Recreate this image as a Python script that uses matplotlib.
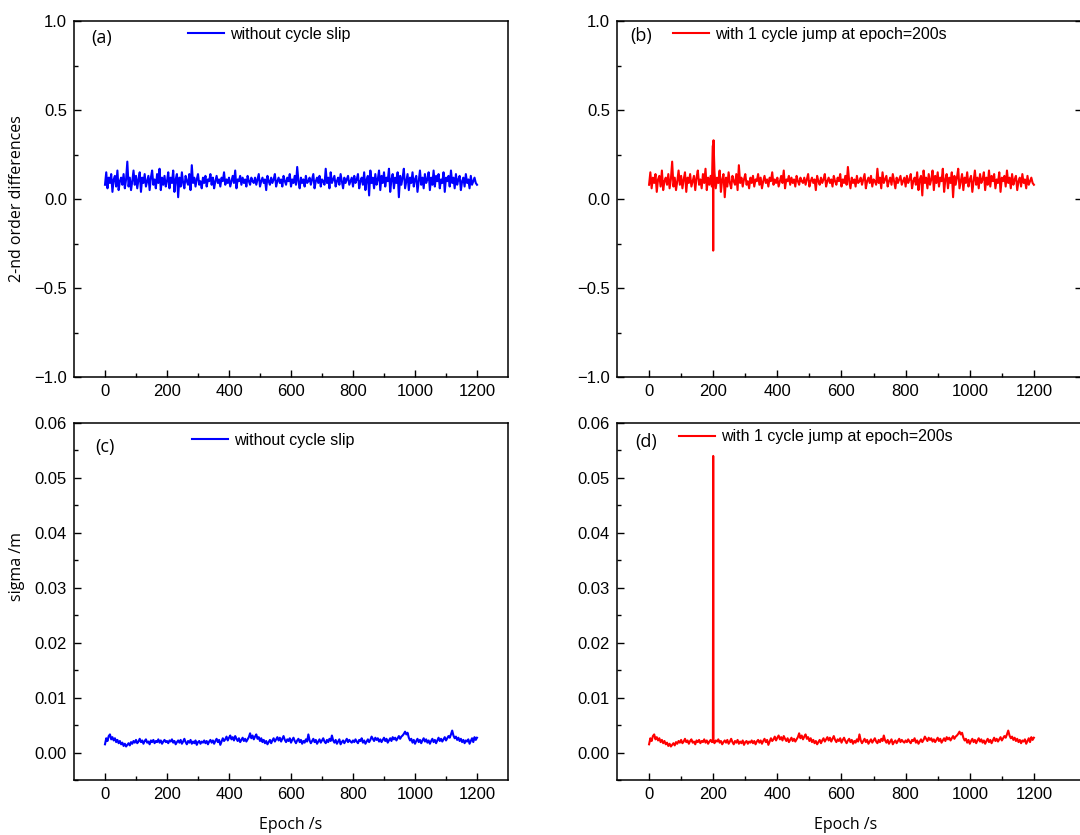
import matplotlib.pyplot as plt
import numpy as np
from matplotlib.ticker import MultipleLocator, FixedLocator

plt.rcParams['font.family'] = ['Liberation Sans', 'DejaVu Sans']

# epochs sampled every 4 s, 0 .. 1200
epoch_step = 4
epoch_end = 1200

# 2-nd order differences without cycle slip
diff_values = [
    0.08, 0.15, 0.06, 0.12, 0.09, 0.14, 0.04, 0.11, 0.13, 0.07, 0.16, 0.05, 0.10, 0.12, 0.08, 0.14, 0.06, 0.11, 0.21, 0.07,
    0.12, 0.05, 0.10, 0.16, 0.08, 0.13, 0.06, 0.11, 0.15, 0.04, 0.12, 0.09, 0.14, 0.07, 0.10, 0.13, 0.05, 0.12, 0.16, 0.08,
    0.11, 0.06, 0.14, 0.09, 0.17, 0.05, 0.12, 0.08, 0.13, 0.07, 0.10, 0.15, 0.06, 0.12, 0.09, 0.16, 0.04, 0.11, 0.14, 0.01,
    0.12, 0.07, 0.15, 0.09, 0.06, 0.13, 0.10, 0.08, 0.14, 0.05, 0.19, 0.09, 0.12, 0.07, 0.11, 0.14, 0.08, 0.10, 0.06, 0.12,
    0.09, 0.13, 0.07, 0.11, 0.10, 0.14, 0.08, 0.12, 0.06, 0.10, 0.13, 0.09, 0.11, 0.07, 0.12, 0.10, 0.15, 0.08, 0.11, 0.09,
    0.12, 0.07, 0.10, 0.13, 0.09, 0.16, 0.06, 0.11, 0.10, 0.13, 0.08, 0.12, 0.09, 0.11, 0.07, 0.13, 0.10, 0.08, 0.12, 0.10,
    0.09, 0.12, 0.08, 0.11, 0.14, 0.07, 0.10, 0.12, 0.09, 0.11, 0.05, 0.13, 0.10, 0.08, 0.12, 0.09, 0.11, 0.14, 0.07, 0.10,
    0.12, 0.09, 0.11, 0.07, 0.13, 0.10, 0.08, 0.12, 0.10, 0.14, 0.07, 0.11, 0.09, 0.13, 0.08, 0.18, 0.10, 0.06, 0.12, 0.09,
    0.11, 0.07, 0.13, 0.09, 0.10, 0.12, 0.08, 0.11, 0.14, 0.06, 0.10, 0.12, 0.09, 0.13, 0.07, 0.11, 0.10, 0.08, 0.17, 0.09,
    0.12, 0.06, 0.15, 0.09, 0.11, 0.13, 0.07, 0.10, 0.12, 0.08, 0.14, 0.10, 0.06, 0.12, 0.09, 0.11, 0.13, 0.08, 0.10, 0.12,
    0.07, 0.13, 0.09, 0.11, 0.14, 0.06, 0.10, 0.12, 0.08, 0.15, 0.05, 0.11, 0.13, 0.02, 0.16, 0.09, 0.12, 0.06, 0.14, 0.08,
    0.11, 0.16, 0.05, 0.13, 0.09, 0.15, 0.07, 0.12, 0.10, 0.17, 0.04, 0.11, 0.14, 0.06, 0.12, 0.09, 0.15, 0.01, 0.13, 0.08,
    0.12, 0.17, 0.06, 0.10, 0.14, 0.05, 0.12, 0.09, 0.15, 0.07, 0.11, 0.13, 0.04, 0.10, 0.16, 0.08, 0.12, 0.06, 0.14, 0.09,
    0.11, 0.15, 0.05, 0.12, 0.08, 0.16, 0.07, 0.13, 0.10, 0.14, 0.06, 0.11, 0.09, 0.15, 0.04, 0.12, 0.10, 0.13, 0.07, 0.16,
    0.09, 0.12, 0.06, 0.14, 0.08, 0.11, 0.13, 0.05, 0.10, 0.12, 0.07, 0.14, 0.09, 0.11, 0.06, 0.13, 0.08, 0.10, 0.12, 0.09,
    0.08,
]

# sigma without cycle slip, metres
sigma_values = [
    0.0015, 0.0026, 0.0021, 0.0030, 0.0033, 0.0024, 0.0028, 0.0022, 0.0026, 0.0019, 0.0023, 0.0017, 0.0021, 0.0015, 0.0018, 0.0012, 0.0016, 0.0011, 0.0014, 0.0017,
    0.0013, 0.0019, 0.0016, 0.0021, 0.0018, 0.0023, 0.0017, 0.0020, 0.0025, 0.0019, 0.0022, 0.0016, 0.0021, 0.0024, 0.0018, 0.0020, 0.0015, 0.0022, 0.0019, 0.0023,
    0.0017, 0.0021, 0.0019, 0.0024, 0.0018, 0.0022, 0.0016, 0.0020, 0.0023, 0.0019, 0.0021, 0.0017, 0.0022, 0.0020, 0.0024, 0.0018, 0.0021, 0.0015, 0.0019, 0.0022,
    0.0018, 0.0023, 0.0016, 0.0020, 0.0025, 0.0019, 0.0015, 0.0021, 0.0018, 0.0023, 0.0016, 0.0020, 0.0017, 0.0022, 0.0014, 0.0019, 0.0021, 0.0016, 0.0020, 0.0018,
    0.0022, 0.0017, 0.0021, 0.0015, 0.0020, 0.0023, 0.0018, 0.0022, 0.0016, 0.0021, 0.0025, 0.0019, 0.0023, 0.0014, 0.0020, 0.0026, 0.0021, 0.0024, 0.0029, 0.0022,
    0.0027, 0.0031, 0.0024, 0.0028, 0.0022, 0.0030, 0.0025, 0.0021, 0.0026, 0.0019, 0.0023, 0.0027, 0.0021, 0.0025, 0.0020, 0.0024, 0.0028, 0.0035, 0.0026, 0.0031,
    0.0024, 0.0029, 0.0033, 0.0025, 0.0028, 0.0021, 0.0026, 0.0019, 0.0023, 0.0017, 0.0021, 0.0015, 0.0019, 0.0023, 0.0017, 0.0022, 0.0026, 0.0020, 0.0024, 0.0028,
    0.0022, 0.0027, 0.0020, 0.0025, 0.0030, 0.0023, 0.0019, 0.0024, 0.0021, 0.0026, 0.0018, 0.0023, 0.0027, 0.0021, 0.0017, 0.0022, 0.0025, 0.0019, 0.0023, 0.0016,
    0.0021, 0.0018, 0.0024, 0.0020, 0.0033, 0.0022, 0.0017, 0.0021, 0.0025, 0.0019, 0.0023, 0.0016, 0.0020, 0.0024, 0.0018, 0.0022, 0.0026, 0.0020, 0.0017, 0.0023,
    0.0019, 0.0025, 0.0021, 0.0031, 0.0022, 0.0018, 0.0023, 0.0016, 0.0020, 0.0024, 0.0015, 0.0019, 0.0022, 0.0017, 0.0021, 0.0025, 0.0019, 0.0023, 0.0020, 0.0018,
    0.0022, 0.0019, 0.0024, 0.0020, 0.0017, 0.0023, 0.0021, 0.0026, 0.0018, 0.0022, 0.0016, 0.0020, 0.0024, 0.0019, 0.0023, 0.0029, 0.0025, 0.0021, 0.0027, 0.0023,
    0.0026, 0.0020, 0.0024, 0.0019, 0.0023, 0.0027, 0.0021, 0.0025, 0.0018, 0.0022, 0.0026, 0.0021, 0.0028, 0.0024, 0.0027, 0.0022, 0.0026, 0.0030, 0.0025, 0.0029,
    0.0031, 0.0034, 0.0038, 0.0033, 0.0036, 0.0027, 0.0022, 0.0025, 0.0018, 0.0023, 0.0016, 0.0021, 0.0025, 0.0019, 0.0023, 0.0017, 0.0022, 0.0026, 0.0020, 0.0024,
    0.0018, 0.0022, 0.0016, 0.0021, 0.0025, 0.0019, 0.0023, 0.0017, 0.0022, 0.0027, 0.0021, 0.0025, 0.0020, 0.0024, 0.0028, 0.0022, 0.0026, 0.0030, 0.0027, 0.0033,
    0.0040, 0.0031, 0.0026, 0.0029, 0.0023, 0.0027, 0.0021, 0.0025, 0.0019, 0.0023, 0.0017, 0.0022, 0.0020, 0.0024, 0.0016, 0.0021, 0.0026, 0.0019, 0.0028, 0.0023,
    0.0027,
]

# epochs around the 1 cycle jump at epoch 200 and their values
jump_diff_epochs = [199, 200, 201]
jump_diff_values = [0.30, -0.29, 0.33]
jump_sigma_epochs = [199, 200, 201]
jump_sigma_values = [0.0021, 0.054, 0.0020]

label_clean = 'without cycle slip'
label_jump = 'with 1 cycle jump at epoch=200s'

epochs = np.arange(0, epoch_end + 1, epoch_step)
diff_clean = np.array(diff_values)
sigma_clean = np.array(sigma_values)


def with_jump(base_epochs, base_values, jump_epochs, jump_values):
    keep = ~np.isin(base_epochs, jump_epochs)
    e = np.concatenate([base_epochs[keep], jump_epochs])
    v = np.concatenate([base_values[keep], jump_values])
    order = np.argsort(e)
    return e[order], v[order]


jump_epochs_b, diff_jump = with_jump(epochs, diff_clean, jump_diff_epochs, jump_diff_values)
jump_epochs_d, sigma_jump = with_jump(epochs, sigma_clean, jump_sigma_epochs, jump_sigma_values)

W, H = 1080, 835
fig = plt.figure(figsize=(W / 100, H / 100), dpi=100)


def axes_px(left, top, right, bottom):
    return fig.add_axes([left / W, 1 - bottom / H, (right - left) / W, (bottom - top) / H])


ax_a = axes_px(74, 21, 508, 377)
ax_b = axes_px(617, 21, 1082, 377)
ax_c = axes_px(74, 423, 508, 780)
ax_d = axes_px(617, 423, 1082, 780)

label_font = ['Open Sans', 'DejaVu Sans']
line_width = 1.5


def style(ax, xlim, ylim, ymajor, yminor, tag, tag_pos, leg_pos):
    ax.set_xlim(*xlim)
    ax.set_ylim(*ylim)
    ax.xaxis.set_major_locator(MultipleLocator(200))
    ax.xaxis.set_minor_locator(FixedLocator([100, 300, 500, 700, 900, 1100]))
    ax.yaxis.set_major_locator(MultipleLocator(ymajor))
    ax.yaxis.set_minor_locator(MultipleLocator(yminor))
    ax.tick_params(which='both', direction='in', width=1, labelsize=12, pad=5)
    ax.tick_params(which='major', length=5)
    ax.tick_params(which='minor', length=3)
    for s in ax.spines.values():
        s.set_linewidth(1.1)
    ax.text(tag_pos[0], tag_pos[1], tag, transform=ax.transAxes, ha='left', va='center',
            fontsize=13, family=label_font)
    ax.legend(loc='center left', bbox_to_anchor=leg_pos, frameon=False, borderpad=0,
              borderaxespad=0, handlelength=2.25, handletextpad=0.4, fontsize=11.5)


ax_a.plot(epochs, diff_clean, color='#0000ff', lw=line_width, label=label_clean)
style(ax_a, (-100, 1300), (-1.0, 1.0), 0.5, 0.25, '(a)', (0.039, 0.952), (0.263, 0.963))
ax_a.set_ylabel('2-nd order differences', fontsize=11.5, family=label_font)
ax_a.yaxis.set_label_coords(-0.113, 0.5)

ax_b.plot(jump_epochs_b, diff_jump, color='#ff0000', lw=line_width, label=label_jump)
style(ax_b, (-100, 1350), (-1.0, 1.0), 0.5, 0.25, '(b)', (0.028, 0.958), (0.120, 0.963))
ax_b.tick_params(which='major', right=True)

ax_c.plot(epochs, sigma_clean, color='#0000ff', lw=line_width, label=label_clean)
style(ax_c, (-100, 1300), (-0.005, 0.06), 0.01, 0.005, '(c)', (0.048, 0.933), (0.272, 0.952))
ax_c.set_ylabel('sigma /m', fontsize=11.5, family=label_font)
ax_c.yaxis.set_label_coords(-0.113, 0.597)
ax_c.set_xlabel('Epoch /s', fontsize=11.5, family=label_font)
ax_c.xaxis.set_label_coords(0.498, -0.105)

ax_d.plot(jump_epochs_d, sigma_jump, color='#ff0000', lw=line_width, label=label_jump)
style(ax_d, (-100, 1350), (-0.005, 0.06), 0.01, 0.005, '(d)', (0.039, 0.947), (0.133, 0.961))
ax_d.set_xlabel('Epoch /s', fontsize=11.5, family=label_font)
ax_d.xaxis.set_label_coords(0.492, -0.105)

for ax in (ax_a, ax_b, ax_c, ax_d):
    ax.xaxis.label.set_va('top')

fig.savefig('out.png', dpi=100)
